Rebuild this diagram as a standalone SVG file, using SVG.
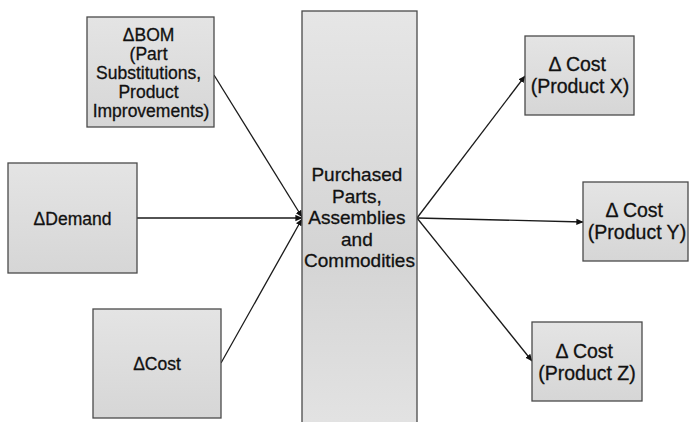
<svg xmlns="http://www.w3.org/2000/svg" width="689" height="422" viewBox="0 0 689 422">
  <style>
    .box { stroke: #4a4a4a; stroke-width: 1.3; }
    .lbl { font-family: "Liberation Sans", Arial, sans-serif; fill: #111; stroke: #111; stroke-width: 0.3; text-anchor: middle; }
    .edge { stroke: #1a1a1a; stroke-width: 1.3; fill: none; marker-end: url(#head); }
  </style>
  <defs>
    <marker id="head" viewBox="0 0 10 10" refX="9.5" refY="5" markerWidth="7" markerHeight="7" markerUnits="userSpaceOnUse" orient="auto">
      <path d="M0,0.5 L10,5 L0,9.5 Z" fill="#111"/>
    </marker>
    <linearGradient id="colFill" x1="0" y1="0" x2="0" y2="1">
      <stop offset="0" stop-color="#e6e6e6"/>
      <stop offset="0.58" stop-color="#d4d4d4"/>
      <stop offset="1" stop-color="#e3e3e3"/>
    </linearGradient>
    <linearGradient id="boxFill" x1="0" y1="0" x2="0" y2="1">
      <stop offset="0" stop-color="#e4e4e4"/>
      <stop offset="1" stop-color="#d6d6d6"/>
    </linearGradient>
  </defs>

  <rect width="689" height="422" fill="#ffffff"/>

  <!-- connectors -->
  <g id="connectors">
    <line class="edge" x1="214" y1="75" x2="302" y2="217"/>
    <line class="edge" x1="137" y1="218" x2="302" y2="218"/>
    <line class="edge" x1="221" y1="363" x2="302" y2="219"/>
    <line class="edge" x1="417" y1="218" x2="525" y2="76"/>
    <line class="edge" x1="417" y1="218" x2="583" y2="222"/>
    <line class="edge" x1="417" y1="218" x2="532" y2="361"/>
  </g>

  <!-- inputs -->
  <g id="bom">
    <rect class="box" x="87" y="17" width="127" height="110" fill="url(#boxFill)"/>
    <text class="lbl" font-size="17.5">
      <tspan x="151" y="41">ΔBOM</tspan>
      <tspan x="151" y="60">(Part</tspan>
      <tspan x="151" y="79">Substitutions,</tspan>
      <tspan x="151" y="98">Product</tspan>
      <tspan x="151" y="117">Improvements)</tspan>
    </text>
  </g>

  <g id="demand">
    <rect class="box" x="8" y="163" width="129" height="110" fill="url(#boxFill)"/>
    <text class="lbl" font-size="17.5" x="72.5" y="225">ΔDemand</text>
  </g>

  <g id="cost">
    <rect class="box" x="93" y="309" width="128" height="109" fill="url(#boxFill)"/>
    <text class="lbl" font-size="17.5" x="157" y="370">ΔCost</text>
  </g>

  <!-- central column -->
  <g id="purchased">
    <rect class="box" x="302" y="11" width="115" height="420" fill="url(#colFill)"/>
    <text class="lbl" font-size="19">
      <tspan x="359.5" y="181">Purchased</tspan>
      <tspan x="359.5" y="202.5">Parts,</tspan>
      <tspan x="359.5" y="224">Assemblies</tspan>
      <tspan x="359.5" y="245.5">and</tspan>
      <tspan x="359.5" y="267">Commodities</tspan>
    </text>
  </g>

  <!-- outputs -->
  <g id="cost-x">
    <rect class="box" x="525" y="36" width="109" height="79" fill="url(#boxFill)"/>
    <text class="lbl" font-size="19.5">
      <tspan x="580" y="71">Δ Cost</tspan>
      <tspan x="580" y="93">(Product X)</tspan>
    </text>
  </g>

  <g id="cost-y">
    <rect class="box" x="583" y="182" width="105" height="79" fill="url(#boxFill)"/>
    <text class="lbl" font-size="19.5">
      <tspan x="637" y="217">Δ Cost</tspan>
      <tspan x="637" y="239">(Product Y)</tspan>
    </text>
  </g>

  <g id="cost-z">
    <rect class="box" x="532" y="322" width="110" height="79" fill="url(#boxFill)"/>
    <text class="lbl" font-size="19.5">
      <tspan x="587" y="358">Δ Cost</tspan>
      <tspan x="587" y="380">(Product Z)</tspan>
    </text>
  </g>
</svg>
